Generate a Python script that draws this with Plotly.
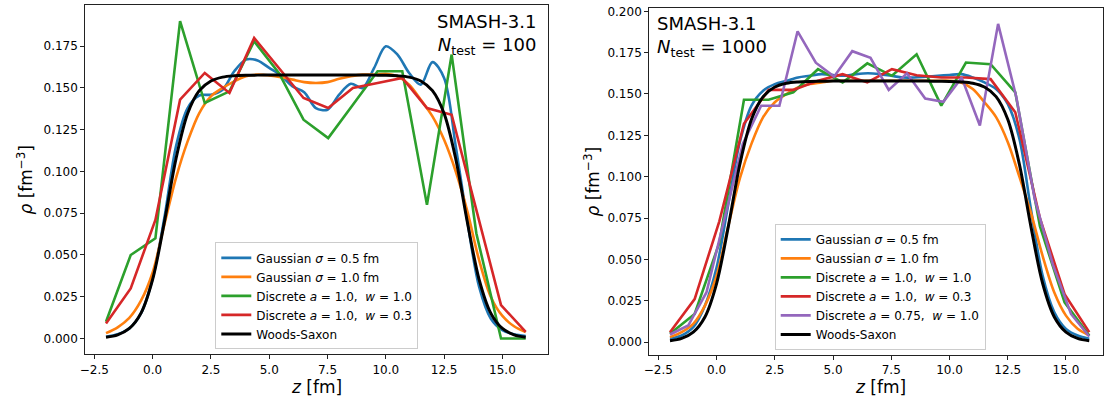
import plotly.graph_objects as go

# ---------------- data ----------------
# node positions for discrete (a = 1.0) samplings: 18 nodes from -2 to 16
z_nodes = [-2.0, -0.941, 0.118, 1.176, 2.235, 3.294, 4.353, 5.412, 6.471, 7.529,
           8.588, 9.647, 10.706, 11.765, 12.824, 13.882, 14.941, 16.0]
# node positions for discrete (a = 0.75): 24 nodes from -2 to 16
z_nodes_075 = [-2.0, -1.217, -0.435, 0.348, 1.130, 1.913, 2.696, 3.478, 4.261, 5.043,
               5.826, 6.609, 7.391, 8.174, 8.957, 9.739, 10.522, 11.304, 12.087, 12.870,
               13.652, 14.435, 15.217, 16.0]
# fine grid for smooth curves
z_fine = [-2.0, -1.5, -1.0, -0.5, 0.0, 0.5, 1.0, 1.5, 2.0, 2.5, 3.0, 3.5, 4.0, 4.5,
          5.0, 5.5, 6.0, 6.5, 7.0, 7.5, 8.0, 8.5, 9.0, 9.5, 10.0, 10.5, 11.0, 11.5,
          12.0, 12.5, 13.0, 13.5, 14.0, 14.5, 15.0, 15.5, 16.0]

# Woods-Saxon reference (same in both panels)
ws = [0.0008, 0.0022, 0.0060, 0.0152, 0.0354, 0.0695, 0.1075, 0.1347, 0.1484, 0.1542,
      0.1565, 0.1573, 0.1576, 0.1577, 0.1578, 0.1578, 0.1578, 0.1578, 0.1578, 0.1578,
      0.1578, 0.1578, 0.1578, 0.1577, 0.1576, 0.1573, 0.1565, 0.1542, 0.1484, 0.1347,
      0.1075, 0.0695, 0.0354, 0.0152, 0.0060, 0.0022, 0.0008]

# ---- left panel: N_test = 100 ----
gauss05_100 = [0.0010, 0.0025, 0.0060, 0.0150, 0.0360, 0.0720, 0.1150, 0.1380, 0.1455, 0.1460,
               0.1490, 0.1600, 0.1670, 0.1665, 0.1620, 0.1575, 0.1510, 0.1475, 0.1380, 0.1370,
               0.1460, 0.1525, 0.1500, 0.1620, 0.1750, 0.1700, 0.1590, 0.1520, 0.1655, 0.1560,
               0.1150, 0.0700, 0.0310, 0.0120, 0.0050, 0.0025, 0.0015]
gauss10_100 = [0.0032, 0.0067, 0.0123, 0.0226, 0.0395, 0.0680, 0.0960, 0.1180, 0.1350, 0.1450,
               0.1500, 0.1540, 0.1570, 0.1580, 0.1575, 0.1565, 0.1550, 0.1535, 0.1530, 0.1535,
               0.1555, 0.1570, 0.1580, 0.1580, 0.1585, 0.1570, 0.1520, 0.1430, 0.1330, 0.1190,
               0.1000, 0.0760, 0.0470, 0.0250, 0.0135, 0.0073, 0.0038]
disc_a1_w1_100 = [0.010, 0.050, 0.060, 0.190, 0.141, 0.148, 0.178, 0.159, 0.131, 0.120,
                  0.140, 0.160, 0.160, 0.080, 0.170, 0.063, 0.000, 0.000]
disc_a1_w03_100 = [0.009, 0.030, 0.071, 0.143, 0.159, 0.147, 0.180, 0.162, 0.144, 0.138,
                   0.150, 0.153, 0.156, 0.138, 0.134, 0.077, 0.020, 0.004]

# ---- right panel: N_test = 1000 ----
gauss05_1000 = [0.0020, 0.0040, 0.0090, 0.0220, 0.0450, 0.0830, 0.1210, 0.1430, 0.1520, 0.1560,
                0.1580, 0.1600, 0.1610, 0.1620, 0.1615, 0.1610, 0.1620, 0.1625, 0.1620, 0.1610,
                0.1600, 0.1600, 0.1605, 0.1610, 0.1615, 0.1620, 0.1600, 0.1570, 0.1530, 0.1440,
                0.1230, 0.0800, 0.0400, 0.0180, 0.0080, 0.0040, 0.0020]
gauss10_1000 = [0.0030, 0.0060, 0.0110, 0.0220, 0.0400, 0.0700, 0.0990, 0.1200, 0.1360, 0.1450,
                0.1500, 0.1540, 0.1560, 0.1570, 0.1580, 0.1580, 0.1580, 0.1580, 0.1580, 0.1580,
                0.1580, 0.1580, 0.1580, 0.1580, 0.1580, 0.1570, 0.1530, 0.1450, 0.1360, 0.1210,
                0.1000, 0.0780, 0.0520, 0.0300, 0.0160, 0.0080, 0.0040]
disc_a1_w1_1000 = [0.005, 0.017, 0.060, 0.1465, 0.1465, 0.151, 0.165, 0.157, 0.1685, 0.161,
                   0.174, 0.143, 0.169, 0.168, 0.151, 0.070, 0.024, 0.004]
disc_a1_w03_1000 = [0.006, 0.026, 0.073, 0.132, 0.1525, 0.1525, 0.158, 0.162, 0.157, 0.165,
                    0.1613, 0.160, 0.160, 0.159, 0.139, 0.075, 0.029, 0.006]
disc_a075_w1_1000 = [0.0046, 0.010, 0.030, 0.075, 0.120, 0.1429, 0.1429, 0.1879, 0.1689, 0.1605,
                     0.1759, 0.1719, 0.1525, 0.1625, 0.1473, 0.1453, 0.1599, 0.1309, 0.1924, 0.148,
                     0.087, 0.047, 0.017, 0.0034]

x_ticks = [-2.5, 0.0, 2.5, 5.0, 7.5, 10.0, 12.5, 15.0]
y_ticks_left = [0.000, 0.025, 0.050, 0.075, 0.100, 0.125, 0.150, 0.175]
y_ticks_right = [0.000, 0.025, 0.050, 0.075, 0.100, 0.125, 0.150, 0.175, 0.200]

names = ["Gaussian <i>σ</i> = 0.5 fm", "Gaussian <i>σ</i> = 1.0 fm",
         "Discrete <i>a</i> = 1.0,  <i>w</i> = 1.0", "Discrete <i>a</i> = 1.0,  <i>w</i> = 0.3",
         "Discrete <i>a</i> = 0.75,  <i>w</i> = 1.0", "Woods-Saxon"]
colors = ["#1f77b4", "#ff7f0e", "#2ca02c", "#d62728", "#9467bd", "#000000"]

W, H = 1104, 400
FONT = "DejaVu Sans"

fig = go.Figure()

def add(x, y, name, color, xa, ya, leg, smooth, width=2.6):
    fig.add_trace(go.Scatter(
        x=x, y=y, name=name, mode="lines", xaxis=xa, yaxis=ya, legend=leg,
        line=dict(color=color, width=width, shape="spline" if smooth else "linear",
                  smoothing=0.9 if smooth else None)))

# left panel
add(z_fine, gauss05_100, names[0], colors[0], "x", "y", "legend", True)
add(z_fine, gauss10_100, names[1], colors[1], "x", "y", "legend", True)
add(z_nodes, disc_a1_w1_100, names[2], colors[2], "x", "y", "legend", False)
add(z_nodes, disc_a1_w03_100, names[3], colors[3], "x", "y", "legend", False)
add(z_fine, ws, names[5], colors[5], "x", "y", "legend", True, 3.0)

# right panel
add(z_fine, gauss05_1000, names[0], colors[0], "x2", "y2", "legend2", True)
add(z_fine, gauss10_1000, names[1], colors[1], "x2", "y2", "legend2", True)
add(z_nodes, disc_a1_w1_1000, names[2], colors[2], "x2", "y2", "legend2", False)
add(z_nodes, disc_a1_w03_1000, names[3], colors[3], "x2", "y2", "legend2", False)
add(z_nodes_075, disc_a075_w1_1000, names[4], colors[4], "x2", "y2", "legend2", False)
add(z_fine, ws, names[5], colors[5], "x2", "y2", "legend2", True, 3.0)

def px(x):
    return x / W

def py(y):
    return 1 - y / H

axis_common = dict(showline=True, linecolor="#222", linewidth=1, mirror=True,
                   ticks="outside", ticklen=4, tickwidth=1, tickcolor="#222",
                   showgrid=False, zeroline=False,
                   tickfont=dict(family=FONT, size=12, color="black"))

fig.update_layout(
    width=W, height=H, margin=dict(l=0, r=0, t=0, b=0),
    paper_bgcolor="white", plot_bgcolor="white",
    font=dict(family=FONT, color="black"),
    xaxis=dict(domain=[px(80.7), px(546.3)], range=[-2.89, 16.97], anchor="y",
               tickvals=x_ticks, tickformat=".1f", **axis_common),
    yaxis=dict(domain=[py(354), py(2)], range=[-0.0095, 0.1997], anchor="x",
               tickvals=y_ticks_left, tickformat=".3f", **axis_common),
    xaxis2=dict(domain=[px(647.7), 1.0], range=[-2.893, 16.59], anchor="y2",
                tickvals=x_ticks, tickformat=".1f", **axis_common),
    yaxis2=dict(domain=[py(354.3), py(4.7)], range=[-0.0076, 0.2022], anchor="x2",
                tickvals=y_ticks_right, tickformat=".3f", **axis_common),
    legend=dict(x=px(313.5), y=py(349), xanchor="center", yanchor="bottom",
                bgcolor="rgba(255,255,255,0.85)", bordercolor="#cccccc", borderwidth=1,
                font=dict(family=FONT, size=12), tracegroupgap=0, itemwidth=30),
    legend2=dict(x=px(880), y=py(349.5), xanchor="center", yanchor="bottom",
                 bgcolor="rgba(255,255,255,0.85)", bordercolor="#cccccc", borderwidth=1,
                 font=dict(family=FONT, size=12), tracegroupgap=0, itemwidth=30),
    showlegend=True,
)

ann = []
# axis titles
ann.append(dict(text="<i>ρ</i> [fm<sup>−3</sup>]", x=px(20), y=py(178), xref="paper", yref="paper",
                xanchor="center", yanchor="middle",
                showarrow=False, textangle=-90, font=dict(family=FONT, size=17)))
ann.append(dict(text="<i>ρ</i> [fm<sup>−3</sup>]", x=px(590), y=py(180), xref="paper", yref="paper",
                xanchor="center", yanchor="middle",
                showarrow=False, textangle=-90, font=dict(family=FONT, size=17)))
ann.append(dict(text="<i>z</i> [fm]", x=px(313.5), y=py(387), xref="paper", yref="paper",
                xanchor="center", yanchor="middle",
                showarrow=False, font=dict(family=FONT, size=17)))
ann.append(dict(text="<i>z</i> [fm]", x=px(880), y=py(387), xref="paper", yref="paper",
                xanchor="center", yanchor="middle",
                showarrow=False, font=dict(family=FONT, size=17)))
# panel labels
ann.append(dict(text="SMASH-3.1<br><i>N</i><sub>test</sub> = 100", x=px(536), y=py(6),
                xref="paper", yref="paper", xanchor="right", yanchor="top", align="right",
                showarrow=False, font=dict(family=FONT, size=18)))
ann.append(dict(text="SMASH-3.1<br><i>N</i><sub>test</sub> = 1000", x=px(654), y=py(8),
                xref="paper", yref="paper", xanchor="left", yanchor="top", align="left",
                showarrow=False, font=dict(family=FONT, size=18)))
fig.update_layout(annotations=ann)

fig.write_html("out.html")
